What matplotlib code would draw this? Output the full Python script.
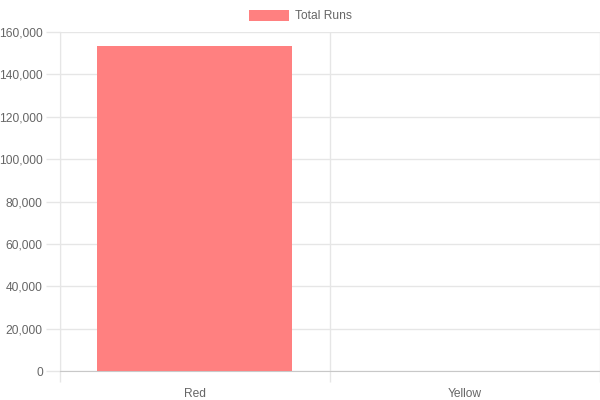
import matplotlib
matplotlib.use("Agg")
import matplotlib.pyplot as plt
from matplotlib.patches import Patch
from matplotlib.ticker import FuncFormatter, FixedLocator

categories = ["Red", "Yellow"]
total_runs = [153400, 0]
series_label = "Total Runs"
y_ticks = [0, 20000, 40000, 60000, 80000, 100000, 120000, 140000, 160000]

plt.rcParams['font.family'] = ['Liberation Sans', 'DejaVu Sans']
FS = 12 * 72 / 100  # 12px at 100 dpi
TXT = '#666666'
GRID = '#e6e6e6'

fig = plt.figure(figsize=(6, 4), dpi=100)
W, H = 600, 400
left, right, top, bottom = 59.5, 599.5, 32, 371.3
ax = fig.add_axes([left / W, (H - bottom) / H, (right - left) / W, (bottom - top) / H])

x = list(range(len(categories)))
ax.bar(x, total_runs, width=0.72, color='#ff8080', linewidth=0, zorder=3)

ax.set_xlim(-0.5, len(categories) - 0.5)
ax.set_ylim(y_ticks[0], y_ticks[-1])

ax.yaxis.set_major_locator(FixedLocator(y_ticks))
ax.yaxis.set_major_formatter(FuncFormatter(lambda v, p: f"{int(v):,}"))
ax.set_xticks(x)
ax.set_xticklabels(categories)
ax.set_xticks([i - 0.5 for i in range(len(categories) + 1)], minor=True)

ax.tick_params(axis='x', which='major', length=0, pad=12, labelsize=FS, labelcolor=TXT)
ax.tick_params(axis='x', which='minor', length=8, width=1, color=GRID)
ax.tick_params(axis='y', which='major', length=10, width=1, color=GRID, pad=2, labelsize=FS, labelcolor=TXT)

ax.grid(True, axis='y', which='major', color=GRID, linewidth=1, zorder=0)
ax.grid(True, axis='x', which='minor', color=GRID, linewidth=1, zorder=0)

for s in ['top', 'right']:
    ax.spines[s].set_visible(False)
ax.spines['left'].set_color(GRID)
ax.spines['bottom'].set_color('#c8c8c8')
ax.spines['left'].set_zorder(1)

fig.legend(handles=[Patch(facecolor='#ff8080', linewidth=0)], labels=[series_label],
           loc='center', bbox_to_anchor=(0.5, 1 - 16 / H), frameon=False,
           fontsize=FS, labelcolor=TXT, handlelength=40 / 12, handleheight=1.0,
           handletextpad=0.5, borderpad=0)

fig.savefig("out.png", dpi=100)
